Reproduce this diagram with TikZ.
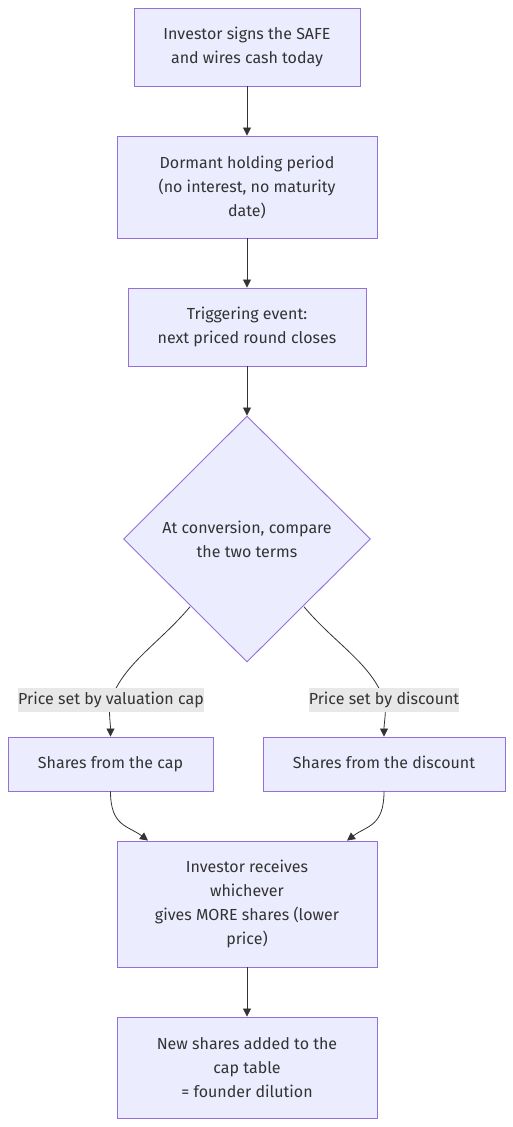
\documentclass[tikz,border=0pt]{standalone}
\usepackage{fontspec}
\setmainfont{Fira Sans}
\usetikzlibrary{arrows.meta,shapes.geometric}
\definecolor{boxfill}{HTML}{ECECFF}
\definecolor{boxline}{HTML}{9370DB}
\definecolor{ink}{HTML}{333333}
\definecolor{labbg}{HTML}{E8E8E8}
\tikzset{
  box/.style={draw=boxline, fill=boxfill, line width=0.9pt, align=center, text=ink, inner sep=0pt, font=\fontsize{16}{24}\selectfont},
  onebox/.style={box, text height=12pt, text depth=4pt},
  dia/.style={diamond, draw=boxline, fill=boxfill, line width=0.9pt, align=center, text=ink, inner sep=0pt, font=\fontsize{16}{24}\selectfont, minimum width=247pt, minimum height=246pt, aspect=1},
  lab/.style={fill=labbg, text=ink, inner sep=0pt, minimum height=24pt, text height=12pt, text depth=4pt, font=\fontsize{16}{24}\selectfont},
  arr/.style={draw=ink, line width=0.8pt, -{Triangle[length=8pt,width=8pt]}},
}
\begin{document}
\begin{tikzpicture}[x=1pt,y=-1pt]
\useasboundingbox[fill=white] (0,0) rectangle (513,1127);
\node[box, minimum width=226pt, minimum height=78pt] (a) at (247,47) {Investor signs the SAFE\\and wires cash today};
\node[box, minimum width=260pt, minimum height=102pt] (b) at (247,187) {Dormant holding period\\(no interest, no maturity\\date)};
\node[box, minimum width=238pt, minimum height=78pt] (c) at (247,327) {Triggering event:\\next priced round closes};
\node[dia] (d) at (247,539) {At conversion, compare\\the two terms};
\node[onebox, minimum width=205pt, minimum height=54pt] (cap) at (110.5,764) {Shares from the cap};
\node[onebox, minimum width=242pt, minimum height=54pt] (disc) at (384,764) {Shares from the discount};
\node[box, minimum width=260pt, minimum height=126pt] (inv) at (247,904) {Investor receives\\whichever\\gives MORE shares (lower\\price)};
\node[box, minimum width=260pt, minimum height=101pt] (new) at (247,1067.5) {New shares added to the\\cap table\\= founder dilution};
\coordinate (l1) at (111,700);
\coordinate (l2) at (384,700);
\draw[arr] (a) -- (b);
\draw[arr] (b) -- (c);
\draw[arr] (c) -- (d);
\draw[arr] ([shift={(5,6)}]d.south west) .. controls +(-30,36) and +(12,-36) .. (l1) .. controls +(-3,10) and +(0,-14) .. (cap.north);
\draw[arr] ([shift={(-5,6)}]d.south east) .. controls +(30,36) and +(-12,-36) .. (l2) .. controls +(3,10) and +(0,-14) .. (disc.north);
\node[lab, minimum width=186pt] (lab1) at (l1) {Price set by valuation cap};
\node[lab, minimum width=150pt] (lab2) at (l2) {Price set by discount};
\draw[arr] (cap.south) .. controls +(0,35) and +(-20,-15) .. ([xshift=-99pt]inv.north);
\draw[arr] (disc.south) .. controls +(0,35) and +(20,-15) .. ([xshift=100pt]inv.north);
\draw[arr] (inv) -- (new);
\end{tikzpicture}
\end{document}
